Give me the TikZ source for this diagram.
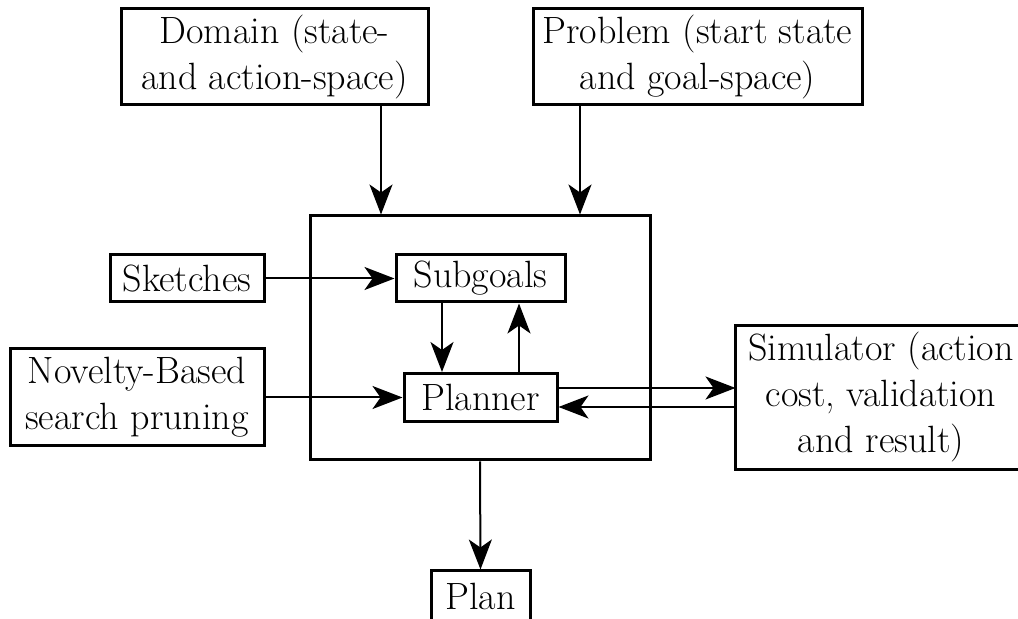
\documentclass[tikz,border=0pt]{standalone}
\usetikzlibrary{arrows.meta,calc}
\begin{document}
\begin{tikzpicture}[x=0.5pt,y=-0.5pt,
  box/.style={draw,line width=1.5pt,inner sep=0pt,align=center,
    font=\fontsize{19pt}{23pt}\selectfont},
  arr/.style={line width=1pt,-{Stealth[length=15pt,width=11.5pt,inset=4pt]}}]
  \useasboundingbox (0,0) rectangle (1018,619);
  \clip (0,0) rectangle (1018,619);
  % inputs at the top
  \node[box,minimum width=153.5pt,minimum height=48pt] (dom) at (274.5,57)
    {Domain (state-\\and action-space)};
  \node[box,minimum width=164.5pt,minimum height=48pt] (prob) at (697.5,57)
    {Problem (start state\\and goal-space)};
  % the system box with its two inner parts
  \node[draw,line width=1.5pt,minimum width=170pt,minimum height=122pt] (sys) at (480,338) {};
  \node[box,minimum width=84.5pt,minimum height=23.5pt] (sub) at (480.5,278.5) {Subgoals};
  \node[box,minimum width=76.5pt,minimum height=24pt] (pln) at (480.5,397.5) {Planner};
  % side inputs
  \node[box,minimum width=77pt,minimum height=23.5pt] (sk) at (187,278.5) {Sketches};
  \node[box,minimum width=127pt,minimum height=48.5pt] (nov) at (137,397.5)
    {Novelty-Based\\search pruning};
  % simulator and result (its frame runs on past the right edge)
  \node[box,draw=none,minimum width=144pt,minimum height=70.5pt] (sim) at (881,397.5)
    {Simulator (action\\cost, validation\\and result)};
  \draw[line width=1.5pt] ($(sim.north east)+(30,0)$) -- (sim.north west)
    -- (sim.south west) -- ($(sim.south east)+(30,0)$);
  \node[box,minimum width=49.5pt,minimum height=25pt] (out) at (480.5,596) {Plan};
  % attachment points of the connectors
  \coordinate (d1) at ($(dom.south)+(106.5,0)$);
  \coordinate (p1) at ($(prob.south)+(-117.5,0)$);
  \coordinate (s1) at ($(sub.south)+(-38.5,0)$);
  \coordinate (q1) at ($(pln.north)+(38.5,0)$);
  \coordinate (q2) at ($(pln.east)+(0,-9.5)$);
  \coordinate (m1) at ($(sim.west)+(0,9.5)$);
  % connectors
  \draw[arr] (d1) -- (d1 |- sys.north);
  \draw[arr] (p1) -- (p1 |- sys.north);
  \draw[arr] (sk.east) -- (sub.west);
  \draw[arr] (nov.east) -- (pln.west);
  \draw[arr] (s1) -- (s1 |- pln.north);
  \draw[arr] (q1) -- (q1 |- sub.south);
  \draw[arr] (q2) -- (q2 -| sim.west);
  \draw[arr] (m1) -- (m1 -| pln.east);
  \draw[arr] (sys.south) -- (out.north);
\end{tikzpicture}
\end{document}
